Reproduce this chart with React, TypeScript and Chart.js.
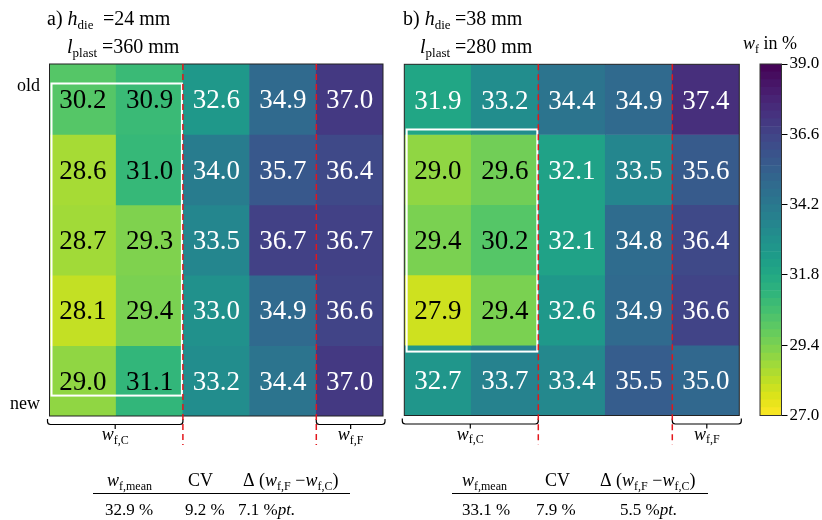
import React, { useEffect, useRef } from 'react';
import { Chart, registerables } from 'chart.js';

Chart.register(...registerables);

const W = 822;
const H = 520;
const FONT = '"Liberation Serif", "Times New Roman", Times, serif';

// ---------------- data ----------------
const COLUMNS = ['1', '2', '3', '4', '5'];
const ROW_LABELS = ['old', 'new'];

// panel a) h_die = 24 mm, l_plast = 360 mm (rows: old -> new)
const A_ROW1 = [30.2, 30.9, 32.6, 34.9, 37.0];
const A_ROW2 = [28.6, 31.0, 34.0, 35.7, 36.4];
const A_ROW3 = [28.7, 29.3, 33.5, 36.7, 36.7];
const A_ROW4 = [28.1, 29.4, 33.0, 34.9, 36.6];
const A_ROW5 = [29.0, 31.1, 33.2, 34.4, 37.0];
const A_VALUES = [A_ROW1, A_ROW2, A_ROW3, A_ROW4, A_ROW5];

// panel b) h_die = 38 mm, l_plast = 280 mm
const B_ROW1 = [31.9, 33.2, 34.4, 34.9, 37.4];
const B_ROW2 = [29.0, 29.6, 32.1, 33.5, 35.6];
const B_ROW3 = [29.4, 30.2, 32.1, 34.8, 36.4];
const B_ROW4 = [27.9, 29.4, 32.6, 34.9, 36.6];
const B_ROW5 = [32.7, 33.7, 33.4, 35.5, 35.0];
const B_VALUES = [B_ROW1, B_ROW2, B_ROW3, B_ROW4, B_ROW5];

const A_PARAMS = ['a)', '24 mm', '360 mm'];
const B_PARAMS = ['b)', '38 mm', '280 mm'];
const A_STATS = ['32.9 %', '9.2 %', '7.1 %'];
const B_STATS = ['33.1 %', '7.9 %', '5.5 %'];

// colour bar
const CB_MIN = 27.0;
const CB_MAX = 39.0;
const CB_TICKS = [27.0, 29.4, 31.8, 34.2, 36.6, 39.0];
const CB_BANDS = 45;

// viridis colormap samples (t = 0 .. 1)
const VIRIDIS = [
  '#440154', '#471365', '#482475', '#463480', '#414487', '#3b528b', '#355f8d',
  '#2f6c8e', '#2a788e', '#25848e', '#21918c', '#1e9c89', '#22a884', '#2fb47c',
  '#44bf70', '#5ec962', '#7ad151', '#9bd93c', '#bddf26', '#dfe318', '#fde725',
];

function hexRgb(h: string) {
  return [parseInt(h.slice(1, 3), 16), parseInt(h.slice(3, 5), 16), parseInt(h.slice(5, 7), 16)];
}

function viridis(t: number) {
  const tt = Math.max(0, Math.min(1, t));
  const pos = tt * (VIRIDIS.length - 1);
  const i = Math.min(VIRIDIS.length - 2, Math.floor(pos));
  const f = pos - i;
  const a = hexRgb(VIRIDIS[i]);
  const b = hexRgb(VIRIDIS[i + 1]);
  const c = a.map((v, k) => Math.round(v + (b[k] - v) * f));
  return `rgb(${c[0]},${c[1]},${c[2]})`;
}

// reversed viridis: low = yellow, high = purple
function wfColor(v: number) {
  return viridis((CB_MAX - v) / (CB_MAX - CB_MIN));
}

// ---------------- layout ----------------
const LAYOUT_A = {
  pad: { left: 49.5, right: W - 383, top: 64, bottom: H - 416 },
  box: [0.03, 0.277, 1.985, 4.71],
  title: { x: 47, eq1: 103, lx: 67, eq2: 102 },
  table: { hy: 486, ly: 493, vy: 515, x0: 93, x1: 350, hx: [107, 188, 243], vx: [105, 185, 238] },
  rowLabels: true,
};
const LAYOUT_B = {
  pad: { left: 404.3, right: W - 739.3, top: 64.3, bottom: H - 415.5 },
  box: [0.035, 0.928, 1.985, 4.09],
  title: { x: 403, eq1: 455, lx: 420, eq2: 455 },
  table: { hy: 486, ly: 493, vy: 515, x0: 452, x1: 708, hx: [462, 545, 600], vx: [462, 536, 620] },
  rowLabels: false,
};

type Part = { t: string; i?: boolean; s?: boolean };

function fontStr(size: number, italic?: boolean) {
  return `${italic ? 'italic ' : ''}${size}px ${FONT}`;
}

function drawParts(ctx: CanvasRenderingContext2D, parts: Part[], x: number, y: number, size: number, align: 'left' | 'center' | 'right' = 'left', color = '#000') {
  const sub = Math.round(size * 0.64);
  const widths = parts.map((p) => {
    ctx.font = fontStr(p.s ? sub : size, p.i);
    return ctx.measureText(p.t).width;
  });
  const total = widths.reduce((a, b) => a + b, 0);
  let cx = align === 'center' ? x - total / 2 : align === 'right' ? x - total : x;
  ctx.fillStyle = color;
  ctx.textAlign = 'left';
  ctx.textBaseline = 'alphabetic';
  parts.forEach((p, k) => {
    ctx.font = fontStr(p.s ? sub : size, p.i);
    ctx.fillText(p.t, cx, p.s ? y + size * 0.2 : y);
    cx += widths[k];
  });
}

function bracket(ctx: CanvasRenderingContext2D, x0: number, x1: number, yTop: number) {
  const yh = yTop + 5.5;
  const r = 3;
  const xm = (x0 + x1) / 2;
  ctx.beginPath();
  ctx.moveTo(x0, yTop);
  ctx.lineTo(x0, yh - r);
  ctx.quadraticCurveTo(x0, yh, x0 + r, yh);
  ctx.lineTo(x1 - r, yh);
  ctx.quadraticCurveTo(x1, yh, x1, yh - r);
  ctx.lineTo(x1, yTop);
  ctx.moveTo(xm, yh);
  ctx.lineTo(xm, yh + 4.5);
  ctx.stroke();
}

function heatmapConfig(values: number[][], L: any, params: string[], stats: string[]) {
  const datasets = values.map((row, r) => ({
    data: row.map(() => [r, r + 1]),
    backgroundColor: row.map(wfColor),
    borderWidth: 0,
    categoryPercentage: 1,
    barPercentage: 1,
    grouped: false,
  }));

  const overlay = {
    id: 'heatOverlay',
    afterDraw(chart: any) {
      const ctx: CanvasRenderingContext2D = chart.ctx;
      const a = chart.chartArea;
      const ys = chart.scales.y;
      const cw = (a.right - a.left) / COLUMNS.length;
      const X = (c: number) => a.left + c * cw;
      const Y = (r: number) => ys.getPixelForValue(r);
      ctx.save();

      // cell values
      ctx.font = fontStr(27);
      ctx.textAlign = 'center';
      ctx.textBaseline = 'middle';
      values.forEach((row, r) =>
        row.forEach((v, c) => {
          ctx.fillStyle = v < 31.5 ? '#000' : '#fff';
          ctx.fillText(v.toFixed(1), X(c + 0.5), Y(r + 0.5) + 2);
        })
      );

      // frame
      ctx.strokeStyle = '#222';
      ctx.lineWidth = 1;
      ctx.strokeRect(a.left, a.top, a.right - a.left, a.bottom - a.top);

      // white box around the core region
      const [bx0, by0, bx1, by1] = L.box;
      ctx.strokeStyle = '#fff';
      ctx.lineWidth = 2;
      ctx.strokeRect(X(bx0), Y(by0), X(bx1) - X(bx0), Y(by1) - Y(by0));

      // brackets
      ctx.strokeStyle = '#000';
      ctx.lineWidth = 1.2;
      bracket(ctx, a.left - 2, X(2), a.bottom + 3);
      bracket(ctx, X(4), a.right + 2, a.bottom + 3);
      drawParts(ctx, [{ t: 'w', i: true }, { t: 'f,C', s: true }], (a.left - 2 + X(2)) / 2, a.bottom + 24, 18, 'center');
      drawParts(ctx, [{ t: 'w', i: true }, { t: 'f,F', s: true }], (X(4) + a.right + 2) / 2, a.bottom + 24, 18, 'center');

      // red dashed separators
      ctx.strokeStyle = '#e3161b';
      ctx.lineWidth = 1.5;
      ctx.setLineDash([6, 4]);
      [2, 4].forEach((c) => {
        ctx.beginPath();
        ctx.moveTo(X(c), a.top);
        ctx.lineTo(X(c), a.bottom + 29);
        ctx.stroke();
      });
      ctx.setLineDash([]);

      // title
      const T = L.title;
      drawParts(ctx, [{ t: params[0] + ' ' }, { t: 'h', i: true }, { t: 'die', s: true }], T.x, 25, 20);
      drawParts(ctx, [{ t: '=' + params[1] }], T.eq1, 25, 20);
      drawParts(ctx, [{ t: 'l', i: true }, { t: 'plast', s: true }], T.lx, 53, 20);
      drawParts(ctx, [{ t: '=' + params[2] }], T.eq2, 53, 20);

      // row labels
      if (L.rowLabels) {
        drawParts(ctx, [{ t: ROW_LABELS[0] }], 40, 91, 18, 'right');
        drawParts(ctx, [{ t: ROW_LABELS[1] }], 40, 409, 18, 'right');
      }

      // statistics table
      const tb = L.table;
      drawParts(ctx, [{ t: 'w', i: true }, { t: 'f,mean', s: true }], tb.hx[0], tb.hy, 18);
      drawParts(ctx, [{ t: 'CV' }], tb.hx[1], tb.hy, 18);
      drawParts(
        ctx,
        [
          { t: 'Δ (' },
          { t: 'w', i: true },
          { t: 'f,F', s: true },
          { t: ' −' },
          { t: 'w', i: true },
          { t: 'f,C', s: true },
          { t: ')' },
        ],
        tb.hx[2],
        tb.hy,
        18
      );
      ctx.strokeStyle = '#000';
      ctx.lineWidth = 1;
      ctx.beginPath();
      ctx.moveTo(tb.x0, tb.ly + 0.5);
      ctx.lineTo(tb.x1, tb.ly + 0.5);
      ctx.stroke();
      drawParts(ctx, [{ t: stats[0] }], tb.vx[0], tb.vy, 17);
      drawParts(ctx, [{ t: stats[1] }], tb.vx[1], tb.vy, 17);
      drawParts(ctx, [{ t: stats[2] }, { t: 'pt.', i: true }], tb.vx[2], tb.vy, 17);

      ctx.restore();
    },
  };

  return {
    type: 'bar' as const,
    data: { labels: COLUMNS, datasets },
    options: {
      responsive: false,
      animation: false as const,
      events: [],
      layout: { padding: L.pad },
      plugins: { legend: { display: false }, tooltip: { enabled: false } },
      scales: {
        x: { type: 'category' as const, display: false, offset: true },
        y: { type: 'linear' as const, display: false, min: 0, max: values.length, reverse: true },
      },
    },
    plugins: [overlay],
  };
}

function colorbarConfig() {
  const step = (CB_MAX - CB_MIN) / CB_BANDS;
  const datasets = Array.from({ length: CB_BANDS }, (_, k) => {
    const lo = CB_MIN + k * step;
    const hi = lo + step;
    return {
      data: [[lo, hi]],
      backgroundColor: wfColor((lo + hi) / 2),
      borderWidth: 0,
      categoryPercentage: 1,
      barPercentage: 1,
      grouped: false,
    };
  });

  const overlay = {
    id: 'cbOverlay',
    afterDraw(chart: any) {
      const ctx: CanvasRenderingContext2D = chart.ctx;
      const a = chart.chartArea;
      ctx.save();
      ctx.strokeStyle = '#333';
      ctx.lineWidth = 1;
      ctx.strokeRect(a.left, a.top, a.right - a.left, a.bottom - a.top);
      drawParts(ctx, [{ t: 'w', i: true }, { t: 'f', s: true }, { t: ' in %' }], 743, 49, 18);
      ctx.restore();
    },
  };

  return {
    type: 'bar' as const,
    data: { labels: ['cb'], datasets },
    options: {
      responsive: false,
      animation: false as const,
      events: [],
      layout: { padding: { left: 760, right: 0, top: 64, bottom: H - 415.5 } },
      plugins: { legend: { display: false }, tooltip: { enabled: false } },
      scales: {
        x: { type: 'category' as const, display: false },
        y: {
          type: 'linear' as const,
          position: 'right' as const,
          min: CB_MIN,
          max: CB_MAX,
          afterBuildTicks: (s: any) => {
            s.ticks = CB_TICKS.map((v) => ({ value: v }));
          },
          afterFit: (s: any) => {
            s.width = 40.5;
          },
          ticks: {
            font: { family: FONT, size: 17 },
            color: '#000',
            padding: 2,
            callback: (v: any) => Number(v).toFixed(1),
          },
          grid: { drawOnChartArea: false, drawTicks: true, tickLength: 6, color: '#000', lineWidth: 1 },
          border: { display: true, color: '#333' },
        },
      },
    },
    plugins: [overlay],
  };
}

export default function App() {
  const refA = useRef<HTMLCanvasElement | null>(null);
  const refB = useRef<HTMLCanvasElement | null>(null);
  const refC = useRef<HTMLCanvasElement | null>(null);

  useEffect(() => {
    Chart.defaults.font.family = FONT;
    const charts: Chart[] = [];
    if (refA.current) charts.push(new Chart(refA.current, heatmapConfig(A_VALUES, LAYOUT_A, A_PARAMS, A_STATS) as any));
    if (refB.current) charts.push(new Chart(refB.current, heatmapConfig(B_VALUES, LAYOUT_B, B_PARAMS, B_STATS) as any));
    if (refC.current) charts.push(new Chart(refC.current, colorbarConfig() as any));
    return () => charts.forEach((c) => c.destroy());
  }, []);

  const cs: React.CSSProperties = { position: 'absolute', left: 0, top: 0, width: W, height: H };
  return (
    <div style={{ position: 'fixed', left: 0, top: 0, width: W, height: H, background: '#fff' }}>
      <canvas ref={refA} width={W} height={H} style={cs} />
      <canvas ref={refB} width={W} height={H} style={cs} />
      <canvas ref={refC} width={W} height={H} style={cs} />
    </div>
  );
}
